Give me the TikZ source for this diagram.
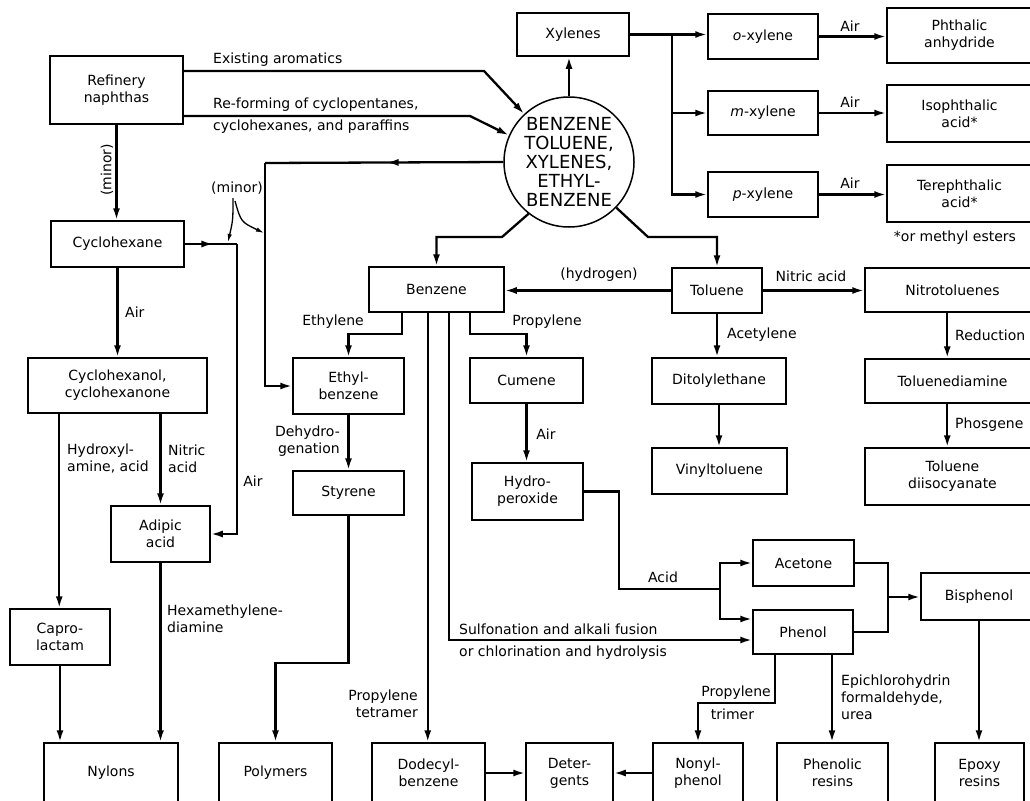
\documentclass[tikz,border=0pt]{standalone}
\usepackage{fontspec}
\setmainfont{DejaVu Sans}
\usetikzlibrary{arrows.meta,decorations.markings}
\newcommand\lblfont{\fontsize{14pt}{17pt}\selectfont}
\newcommand\circfont{\fontsize{18pt}{19pt}\selectfont}
\begin{document}
\begin{tikzpicture}[x=1pt,y=-1pt,
  box/.style={draw,line width=1.5pt,align=center,inner sep=0pt,font=\lblfont},
  sz/.style 2 args={minimum width=#1pt,minimum height=#2pt},
  lbl/.style={inner sep=0pt,font=\lblfont},
  conn/.style={line width=2.3pt},
  arr/.style={conn,-{Latex[length=12pt,width=7pt]}},
  midarr/.style={conn,postaction={decorate},decoration={markings,mark=at position #1 with {\arrow{Latex[length=12pt,width=7pt]}}}},
  minorarr/.style={line width=1.3pt,-{Latex[length=8pt,width=4.5pt]}}]
\useasboundingbox (0,0) rectangle (1030,800);
\clip (0,0) rectangle (1030,800);
\fill[white] (0,0) rectangle (1030,800);

% ---------- boxes ----------
\node[box,sz={133}{68}] (ref) at (116.5,90) {Refinery\\naphthas};
\node[box,sz={133}{46}] (cyc) at (117.5,244) {Cyclohexane};
\node[box,sz={179}{55}] (cyol) at (117.5,385.5) {Cyclohexanol,\\cyclohexanone};
\node[box,sz={99}{56}] (adip) at (160.5,534) {Adipic\\acid};
\node[box,sz={100}{56}] (capro) at (60,637) {Capro-\\lactam};
\node[box,sz={134}{60}] (nylons) at (111,773) {Nylons};
\node[box,sz={113}{60}] (poly) at (275.5,773) {Polymers};
\node[box,sz={113}{60}] (dodec) at (428.5,773) {Dodecyl-\\benzene};
\node[box,sz={87}{60}] (deter) at (569.5,773) {Deter-\\gents};
\node[box,sz={90}{60}] (nonyl) at (698,773) {Nonyl-\\phenol};
\node[box,sz={111}{60}] (phres) at (832.5,773) {Phenolic\\resins};
\node[box,sz={89}{60}] (epoxy) at (979.5,773) {Epoxy\\resins};
\node[box,sz={111}{56}] (ethb) at (348.5,386) {Ethyl-\\benzene};
\node[box,sz={111}{44}] (styr) at (348.5,493) {Styrene};
\node[box,sz={135}{45}] (benz) at (436.5,289.5) {Benzene};
\node[box,sz={113}{45}] (cum) at (526.5,380.5) {Cumene};
\node[box,sz={111}{57}] (hydro) at (527.5,491.5) {Hydro-\\peroxide};
\node[box,sz={90}{45}] (tol) at (717,290.5) {Toluene};
\node[box,sz={134}{46}] (ditol) at (719,381) {Ditolylethane};
\node[box,sz={135}{46}] (vinyl) at (719.5,471) {Vinyltoluene};
\node[box,sz={175}{44}] (nitro) at (952.5,290) {Nitrotoluenes};
\node[box,sz={175}{44}] (tda) at (952.5,381) {Toluenediamine};
\node[box,sz={175}{57}] (tdi) at (952.5,476.5) {Toluene\\diisocyanate};
\node[box,sz={101}{46}] (acet) at (803.5,563) {Acetone};
\node[box,sz={100}{44}] (phen) at (803,632) {Phenol};
\node[box,sz={116}{47}] (bis) at (979,596.5) {Bisphenol};
\node[box,sz={112}{43}] (xyl) at (573,34.5) {Xylenes};
\node[box,sz={110}{45}] (oxy) at (763,36.5) {\textit{o}-xylene};
\node[box,sz={110}{44}] (mxy) at (763,113) {\textit{m}-xylene};
\node[box,sz={110}{45}] (pxy) at (763,194.5) {\textit{p}-xylene};
\node[box,sz={145}{55}] (phth) at (959.5,35.5) {Phthalic\\anhydride};
\node[box,sz={145}{57}] (iso) at (959.5,113.5) {Isophthalic\\acid*};
\node[box,sz={145}{57}] (tere) at (959.5,193.5) {Terephthalic\\acid*};
\node[draw,circle,line width=1.5pt,minimum size=130pt,inner sep=-4pt,align=center,font=\circfont] (circ) at (569,162) {BENZENE\\TOLUENE,\\XYLENES,\\ETHYL-\\BENZENE};

% ---------- coordinates ----------
\coordinate (c1) at (265,163);
\coordinate (c2) at (237,244);
\coordinate (jx) at (672,34.5);
\coordinate (e1) at (348.5,334);
\coordinate (e2) at (526.5,334);
\coordinate (e3) at (275.5,663);
\coordinate (j2) at (720,589);
\coordinate (j3) at (888,597);
\coordinate (j4) at (698,703);
\coordinate (m1s) at (233,198);
\coordinate (m1e) at (228,242);
\coordinate (m2s) at (235,201);
\coordinate (m2e) at (264,233);

% ---------- connectors ----------
\draw[arr] ([yshift=19pt]ref.east) -- (484,71) -- (circ.133);
\draw[arr] ([yshift=-26pt]ref.east) -- (470,116) -- (circ.156);
\draw[arr] (ref.south) -- (ref.south |- cyc.north);
\draw[midarr=0.55] (cyc.east) -- (c2);
\draw[arr] (c2) |- (adip.east);
\draw[midarr=0.49] (circ.west) -- (c1);
\draw[arr] (c1) |- (ethb.west);
\draw[minorarr] (m1s) .. controls (233,220) .. (m1e);
\draw[minorarr] (m2s) .. controls (241,222) .. (m2e);
\draw[arr] (cyc.south) -- (cyc.south |- cyol.north);
\draw[arr] ([xshift=32pt]cyol.south west) -- ([xshift=32pt]cyol.south west |- capro.north);
\draw[arr] (capro.south) -- (capro.south |- nylons.north);
\draw[arr] (adip.north |- cyol.south) -- (adip.north);
\draw[arr] (adip.south) -- (adip.south |- nylons.north);

\draw[arr] (circ.north) -- (circ.north |- xyl.south);
\draw[arr] (xyl.east) -- (xyl.east -| oxy.west);
\draw[arr] (jx) |- (mxy.west);
\draw[arr] (jx) |- (pxy.west);
\draw[arr] (oxy.east) -- (oxy.east -| phth.west);
\draw[arr] (mxy.east) -- (mxy.east -| iso.west);
\draw[arr] (pxy.east) -- (pxy.east -| tere.west);

\draw[arr] (circ.-128) -- (502,237) -| (benz.north);
\draw[arr] (circ.-44) -- (648,237) -| (tol.north);
\draw[arr] (tol.west) -- (tol.west -| benz.east);
\draw[arr] (tol.east) -- (tol.east -| nitro.west);
\draw[arr] (tol.south) -- (tol.south |- ditol.north);
\draw[arr] (ditol.south) -- (ditol.south |- vinyl.north);
\draw[arr] ([xshift=83pt]nitro.south west) -- ([xshift=83pt]tda.north west);
\draw[arr] ([xshift=83pt]tda.south west) -- ([xshift=83pt]tdi.north west);

\draw[arr] ([xshift=34pt]benz.south west) |- (e1) -- (ethb.north);
\draw[arr] ([xshift=59.5pt]benz.south west) -- ([xshift=59.5pt]benz.south west |- dodec.north);
\draw[arr] ([xshift=80.5pt]benz.south west) |- ([yshift=-8pt]phen.west);
\draw[arr] ([xshift=102pt]benz.south west) |- (e2) -- (cum.north);
\draw[arr] (cum.south) -- (cum.south |- hydro.north);
\draw[conn] (hydro.east) -- (619,491.5) |- (j2);
\draw[arr] (j2) |- (acet.west);
\draw[arr] (j2) |- ([yshift=13pt]phen.west);
\draw[conn] (acet.east) -| (j3);
\draw[conn] (phen.east) -| (j3);
\draw[arr] (j3) -- (j3 -| bis.west);
\draw[arr] (bis.south) -- (bis.south |- epoxy.north);
\draw[arr] ([xshift=-28pt]phen.south) |- (j4) -- (nonyl.north);
\draw[arr] ([xshift=29pt]phen.south) -- ([xshift=29pt]phen.south |- phres.north);
\draw[arr] (nonyl.west) -- (deter.east);
\draw[arr] (dodec.east) -- (deter.west);
\draw[arr] (ethb.south) -- (styr.north);
\draw[arr] (styr.south) |- (e3) -- (poly.north);

% ---------- labels ----------
\node[lbl,anchor=west] (l1) at (213,60) {Existing aromatics};
\node[lbl,anchor=west] (l2) at (213,105) {Re-forming of cyclopentanes,};
\node[lbl,anchor=west] (l3) at (213,127) {cyclohexanes, and paraffins};
\node[lbl,rotate=90] (l4) at (107,170) {(minor)};
\node[lbl] (l5) at (237,188) {(minor)};
\node[lbl,anchor=west] (l6) at (125,312) {Air};
\node[lbl] (l7) at (253,481) {Air};
\node[lbl,anchor=west,align=left] (l8) at (67,458.5) {Hydroxyl-\\amine, acid};
\node[lbl,anchor=west,align=left] (l9) at (168,458.5) {Nitric\\acid};
\node[lbl,anchor=west,align=left] (l10) at (167,618.5) {Hexamethylene-\\diamine};
\node[lbl,anchor=east] (l11) at (364,322) {Ethylene};
\node[lbl,anchor=east,align=right] (l12) at (340,441) {Dehydro-\\genation};
\node[lbl] (l13) at (547,322) {Propylene};
\node[lbl] (l14) at (546,434) {Air};
\node[lbl] (l15) at (599,275) {(hydrogen)};
\node[lbl] (l16) at (811,276) {Nitric acid};
\node[lbl,anchor=west] (l17) at (727,335) {Acetylene};
\node[lbl,anchor=west] (l18) at (955,335) {Reduction};
\node[lbl,anchor=west] (l19) at (955,425) {Phosgene};
\node[lbl] (l20) at (663,577) {Acid};
\node[lbl,anchor=west] (l21) at (459,629) {Sulfonation and alkali fusion};
\node[lbl,anchor=west] (l22) at (459,653) {or chlorination and hydrolysis};
\node[lbl,anchor=east,align=right] (l23) at (418,704) {Propylene\\tetramer};
\node[lbl,anchor=east] (l24) at (771,693) {Propylene};
\node[lbl] (l25) at (732.5,714) {trimer};
\node[lbl,anchor=west,align=left] (l26) at (841,697) {Epichlorohydrin\\formaldehyde,\\urea};
\node[lbl] (l27) at (850,26) {Air};
\node[lbl] (l28) at (850,102) {Air};
\node[lbl] (l29) at (850,183) {Air};
\node[lbl] (l30) at (955,238) {*or methyl esters};
\end{tikzpicture}
\end{document}
